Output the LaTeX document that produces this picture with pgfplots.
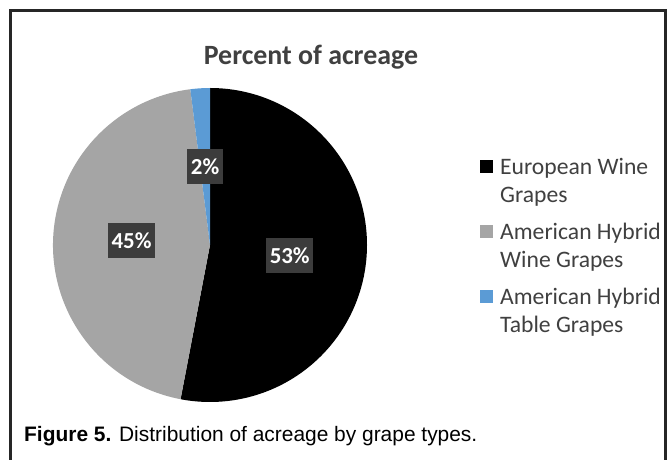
\documentclass[border=0pt]{standalone}
\usepackage{pgfplots}
\pgfplotsset{compat=1.18}
\usepackage{pgfplotstable}
\usepackage{fontspec}
\setmainfont{Carlito}
\newfontfamily\arialfont{Liberation Sans}
\definecolor{slicegray}{HTML}{A5A5A5}
\definecolor{sliceblue}{HTML}{5B9BD5}
\definecolor{txtgray}{HTML}{404040}
\definecolor{lblbox}{HTML}{3C3C3C}
\definecolor{framecol}{HTML}{262626}
\pgfkeys{/pgf/number format/assume math mode=true}

% Percent of acreage by grape type
\pgfplotstableread{
share
53
45
2
}\piedata

\begin{document}
\begin{tikzpicture}
\useasboundingbox (0bp,0bp) rectangle (669bp,460bp);
\pgfplotstablegetelem{0}{share}\of\piedata \pgfmathsetmacro{\sA}{\pgfplotsretval}
\pgfplotstablegetelem{1}{share}\of\piedata \pgfmathsetmacro{\sB}{\pgfplotsretval}
\pgfplotstablegetelem{2}{share}\of\piedata \pgfmathsetmacro{\sC}{\pgfplotsretval}
\pgfmathsetmacro{\aO}{90}
\pgfmathsetmacro{\aA}{\aO-3.6*\sA}
\pgfmathsetmacro{\aB}{\aA-3.6*\sB}
\pgfmathsetmacro{\aC}{\aB-3.6*\sC}
\pgfmathsetmacro{\mA}{(\aO+\aA)/2}
\pgfmathsetmacro{\mB}{(\aA+\aB)/2}
\pgfmathsetmacro{\mC}{(\aB+\aC)/2}
\begin{axis}[
  x=157bp, y=157bp,
  xmin=-1, xmax=1, ymin=-1, ymax=1,
  hide axis, clip=false,
  at={(210bp,215bp)}, anchor=origin,
]
\fill[black] (axis cs:0,0) -- (axis cs:{cos(\aO)},{sin(\aO)}) arc[start angle=\aO, end angle=\aA, radius=157bp] -- cycle;
\fill[slicegray] (axis cs:0,0) -- (axis cs:{cos(\aA)},{sin(\aA)}) arc[start angle=\aA, end angle=\aB, radius=157bp] -- cycle;
\fill[sliceblue] (axis cs:0,0) -- (axis cs:{cos(\aB)},{sin(\aB)}) arc[start angle=\aB, end angle=\aC, radius=157bp] -- cycle;
\tikzset{lbl/.style={fill=lblbox, text=white, font=\bfseries\fontsize{23}{27}\selectfont, inner xsep=3.5bp, inner ysep=0bp, minimum height=35bp}}
\node[lbl] at (axis cs:{0.5*cos(\mA)+0.01},{0.5*sin(\mA)-0.02}) {\pgfmathprintnumber{\sA}\%};
\node[lbl] at (axis cs:{0.5*cos(\mB)},{0.5*sin(\mB)+0.01}) {\pgfmathprintnumber{\sB}\%};
\node[lbl] at (axis cs:{0.5*cos(\mC)},{0.5*sin(\mC)}) {\pgfmathprintnumber{\sC}\%};
\end{axis}
% frame
\draw[framecol, line width=3bp] (10bp,0bp) -- (10bp,449.5bp) -- (665.5bp,449.5bp) -- (665.5bp,0bp);
% title
\node[anchor=base, inner sep=0pt, text=txtgray, font=\bfseries\fontsize{28}{34}\selectfont] at (311bp,395bp) {Percent of acreage};
% legend
\fill[black] (480bp,287bp) rectangle (493bp,300bp);
\fill[slicegray] (480bp,222bp) rectangle (493bp,235bp);
\fill[sliceblue] (480bp,157bp) rectangle (493bp,170bp);
\tikzset{leg/.style={anchor=base west, inner sep=0pt, text=txtgray, font=\fontsize{23.7}{28}\selectfont}}
\node[leg] at (500bp,285bp) {European Wine};
\node[leg] at (500bp,257bp) {Grapes};
\node[leg] at (500bp,220bp) {American Hybrid};
\node[leg] at (500bp,192bp) {Wine Grapes};
\node[leg] at (500bp,155bp) {American Hybrid};
\node[leg] at (500bp,127bp) {Table Grapes};
% caption
\node[anchor=base west, inner sep=0pt, font=\arialfont\fontsize{21}{25}\selectfont] at (24bp,19bp) {\textbf{Figure 5.} Distribution of acreage by grape types.};
\end{tikzpicture}
\end{document}
